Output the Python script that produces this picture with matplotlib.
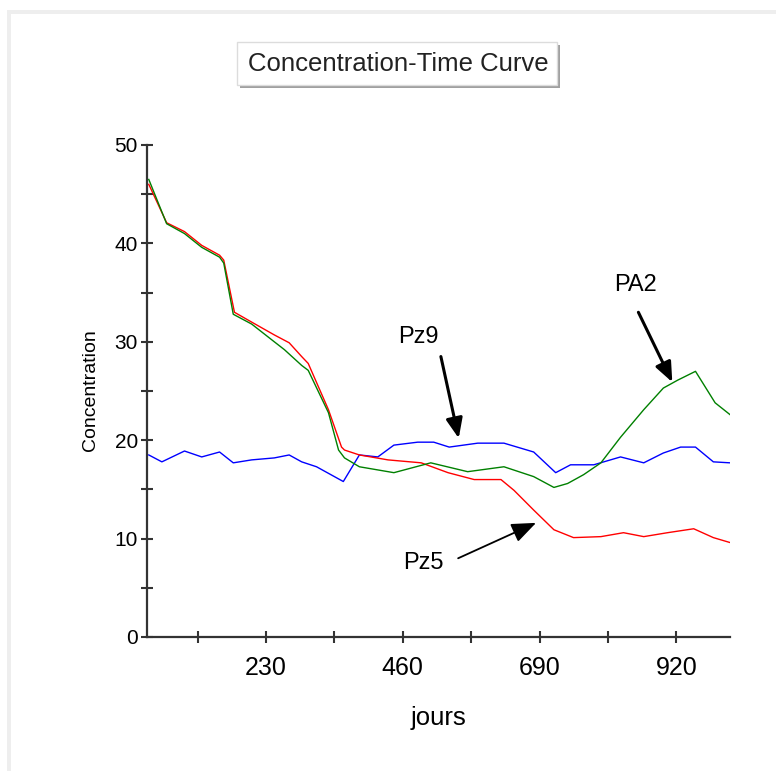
import matplotlib
matplotlib.use("Agg")
import matplotlib.pyplot as plt
from matplotlib.patches import Rectangle

plt.rcParams['font.family'] = ['Liberation Sans', 'DejaVu Sans']

# ---------------- data ----------------
title = "Concentration-Time Curve"
x_label = "jours"
y_label = "Concentration"
x_ticks = [230, 460, 690, 920]
x_minor = [115, 345, 575, 805]
y_ticks = [0, 10, 20, 30, 40, 50]
y_minor = [5, 15, 25, 35, 45]

pz5_days = [33, 63, 93, 122, 152, 159, 177, 206, 244, 269, 290, 301, 335, 357, 362,
            387, 435, 491, 536, 580, 625, 647, 680, 714, 747, 793, 831, 865, 905, 949, 982, 1010]
pz5_conc = [46.0, 42.1, 41.2, 39.8, 38.8, 38.3, 33.0, 32.0, 30.7, 29.9, 28.5, 27.8, 23.1, 19.3, 19.0,
            18.5, 18.0, 17.7, 16.7, 16.0, 16.0, 14.9, 12.9, 10.9, 10.1, 10.2, 10.6, 10.2, 10.6, 11.0, 10.1, 9.6]

pa2_days = [33, 63, 93, 122, 152, 159, 175, 206, 244, 261, 290, 301, 335, 352, 362,
            387, 445, 507, 569, 630, 680, 714, 737, 764, 793, 826, 865, 898, 922, 952, 985, 1010]
pa2_conc = [46.5, 42.0, 41.0, 39.6, 38.6, 38.0, 32.8, 31.8, 30.0, 29.2, 27.6, 27.1, 22.8, 19.0, 18.2,
            17.3, 16.7, 17.7, 16.8, 17.3, 16.3, 15.2, 15.6, 16.5, 17.7, 20.3, 23.1, 25.3, 26.1, 27.0, 23.8, 22.6]

pz9_days = [33, 55, 93, 122, 152, 175, 206, 244, 269, 290, 315, 360, 387, 418, 445,
            485, 512, 538, 586, 630, 680, 717, 742, 781, 826, 865, 898, 927, 952, 982, 1010]
pz9_conc = [18.5, 17.8, 18.9, 18.3, 18.8, 17.7, 18.0, 18.2, 18.5, 17.8, 17.3, 15.8, 18.5, 18.3, 19.5,
            19.8, 19.8, 19.3, 19.7, 19.7, 18.8, 16.7, 17.5, 17.5, 18.3, 17.7, 18.7, 19.3, 19.3, 17.8, 17.7]

# ---------------- figure ----------------
W, H = 776, 771
fig = plt.figure(figsize=(W / 100, H / 100), dpi=100)
fig.patch.set_facecolor('white')

def fx(px):
    return px / W

def fy(py):
    return 1 - py / H

# outer light frame (top and left)
fig.patches.append(Rectangle((fx(7), fy(14)), fx(W) - fx(7), 4 / H, transform=fig.transFigure,
                             facecolor='#eeeeee', edgecolor='none', zorder=0))
fig.patches.append(Rectangle((fx(7), 0), 4 / W, fy(10), transform=fig.transFigure,
                             facecolor='#eeeeee', edgecolor='none', zorder=0))

# title box with shadow
fig.patches.append(Rectangle((fx(240), fy(88)), (560 - 240) / W, (88 - 45) / H, transform=fig.transFigure,
                             facecolor='#a0a0a0', edgecolor='none', zorder=1))
fig.patches.append(Rectangle((fx(237), fy(85)), (557 - 237) / W, (85 - 42) / H, transform=fig.transFigure,
                             facecolor='white', edgecolor='#dcdcdc', linewidth=1, zorder=2))
fig.text(fx(398), fy(64), title, ha='center', va='center', fontsize=18.5, color='#222222', zorder=3)

ax = fig.add_axes([fx(147), fy(637), (730 - 147) / W, (637 - 145) / H])
ax.set_facecolor('white')

ax.plot(pz9_days, pz9_conc, color='#0000ff', lw=1.0, zorder=3)
ax.plot(pz5_days, pz5_conc, color='#ff0000', lw=1.0, zorder=3)
ax.plot(pa2_days, pa2_conc, color='#008000', lw=1.0, zorder=4)

ax.set_xlim(30, 1010)
ax.set_ylim(0, 50)

for s in ['top', 'right']:
    ax.spines[s].set_visible(False)
for s in ['left', 'bottom']:
    ax.spines[s].set_linewidth(1.6)
    ax.spines[s].set_color('#333333')

ax.set_xticks(x_ticks)
ax.set_xticks(x_minor, minor=True)
ax.set_yticks(y_ticks)
ax.set_yticks(y_minor, minor=True)
ax.tick_params(axis='x', which='both', direction='inout', length=8, width=1.5, color='#333333',
               labelsize=18, pad=10)
ax.tick_params(axis='y', which='both', direction='inout', length=9, width=1.5, color='#333333',
               labelsize=15, pad=2)
ax.tick_params(axis='both', which='minor', labelbottom=False, labelleft=False)

fig.text(fx(439), fy(718), x_label, ha='center', va='center', fontsize=18.5)
fig.text(fx(90), fy(390), y_label, ha='center', va='center', fontsize=14, rotation=90)

# annotations
ax.text(486, 30.5, "Pz9", ha='center', va='center', fontsize=17)
ax.annotate('', xy=(554, 20.2), xytext=(524, 28.5),
            arrowprops=dict(arrowstyle='-|>,head_length=1.2,head_width=0.5', lw=2.2, color='black',
                            shrinkA=0, shrinkB=0))
ax.text(851, 35.8, "PA2", ha='center', va='center', fontsize=17)
ax.annotate('', xy=(913, 25.9), xytext=(856, 33.0),
            arrowprops=dict(arrowstyle='-|>,head_length=1.2,head_width=0.5', lw=2.2, color='black',
                            shrinkA=0, shrinkB=0))
ax.text(494, 7.5, "Pz5", ha='center', va='center', fontsize=17)
ax.annotate('', xy=(684, 11.6), xytext=(553, 8.0),
            arrowprops=dict(arrowstyle='-|>,head_length=1.5,head_width=0.6', lw=1.3, color='black',
                            shrinkA=0, shrinkB=0))

fig.savefig('out.png', dpi=100, facecolor='white')
